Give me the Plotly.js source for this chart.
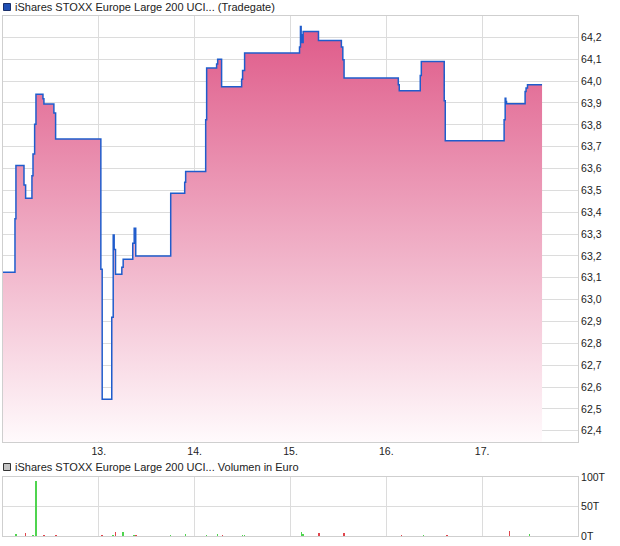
<!DOCTYPE html>
<html>
<head>
<meta charset="utf-8">
<script src="https://cdn.plot.ly/plotly-3.0.1.min.js"></script>
<style>html,body{margin:0;padding:0;background:#fff;}#chart{width:620px;height:546px;}</style>
</head>
<body>
<div id="chart"></div>
<script>
// ---- DATA ----
const seriesName = "iShares STOXX Europe Large 200 UCI... (Tradegate)";
const volumeName = "iShares STOXX Europe Large 200 UCI... Volumen in Euro";

// time in day-of-month units (12.0 = start of the 12th)
const priceTime = [12.000,12.125,12.135,12.219,12.236,12.302,12.313,12.330,12.344,12.417,12.427,12.531,12.549,
  13.021,13.035,13.135,13.150,13.160,13.174,13.240,13.254,13.354,13.369,13.385,13.750,13.896,13.906,
  14.115,14.125,14.229,14.240,14.281,14.490,14.500,14.521,
  15.094,15.104,15.111,15.119,15.132,15.292,15.531,15.546,15.559,
  16.125,16.135,16.354,16.365,16.604,16.615,
  17.229,17.240,17.247,17.254,17.448,17.458,17.473,17.625];
const priceValue = [63.125,63.37,63.614,63.525,63.464,63.567,63.666,63.803,63.94,63.919,63.895,63.854,63.735,
  63.139,62.544,62.919,63.296,63.23,63.116,63.148,63.185,63.258,63.327,63.20,63.487,63.537,63.586,
  63.823,64.06,64.078,64.10,63.974,64.009,64.049,64.129,
  64.156,64.25,64.212,64.177,64.227,64.186,64.156,64.098,64.014,
  63.983,63.956,64.026,64.09,63.91,63.727,
  63.823,63.922,63.907,63.896,63.953,63.968,63.983,63.983];

const volUpTime  = [12.135,12.313,12.344,13.150,13.254,13.369,13.750,13.906,14.125,14.240,14.500,14.518,15.115,15.132,16.388,17.493];
const volUpValue = [4000,1000,94000,2000,7000,2000,1500,3500,1000,3000,1500,1500,7500,4000,1000,3000];
const volDownTime  = [12.233,12.427,12.552,13.031,13.174,13.385,14.289,15.299,15.556,16.159,16.635,17.285];
const volDownValue = [4500,1500,1500,1500,6000,1500,2500,4500,5500,1000,1000,8000];

const dayTicks = [13,14,15,16,17];
const dayLabels = ["13.","14.","15.","16.","17."];
const volTicks = [0,50000,100000];
const volLabels = ["0T","50T","100T"];

// ---- CHART ----
const FONT = "Liberation Sans, Arial, sans-serif";
const gridC = "#dcdcdc", lineC = "#cfcfcf";

const traces = [
  {
    x: priceTime, y: priceValue, type: "scatter", mode: "lines",
    line: {shape: "hv", color: "#1f5ccc", width: 1.5},
    fill: "tozeroy",
    fillgradient: {type: "vertical", start: 62.35, stop: 64.30,
      colorscale: [[0, "rgb(255,250,252)"], [1, "rgb(222,86,134)"]]},
    xaxis: "x", yaxis: "y", hoverinfo: "skip"
  },
  {
    x: volUpTime, y: volUpValue, type: "bar", width: 0.016,
    marker: {color: "#4fd44f", line: {width: 0}},
    xaxis: "x2", yaxis: "y2", hoverinfo: "skip"
  },
  {
    x: volDownTime, y: volDownValue, type: "bar", width: 0.016,
    marker: {color: "#e0454c", line: {width: 0}},
    xaxis: "x2", yaxis: "y2", hoverinfo: "skip"
  }
];

const W = 620, H = 546, ml = 3, mr = 42, mt = 16, mb = 10;
const pw = W - ml - mr, ph = H - mt - mb;
const px = v => (v - ml) / pw;
const py = v => (H - mb - v) / ph;

const axisCommon = {
  showgrid: true, gridcolor: gridC, gridwidth: 1,
  showline: true, mirror: true, linecolor: lineC, linewidth: 1,
  zeroline: false, ticks: "", fixedrange: true,
  tickfont: {family: FONT, size: 10.5, color: "#222"}
};

const layout = {
  width: W, height: H,
  margin: {l: ml, r: mr, t: mt, b: mb, pad: 0},
  paper_bgcolor: "#fff", plot_bgcolor: "#fff",
  showlegend: false, separators: ",.",
  bargap: 0, barmode: "overlay",
  font: {family: FONT, size: 11, color: "#222"},
  xaxis: Object.assign({}, axisCommon, {
    domain: [0, 1], range: [12, 18], anchor: "y",
    tickmode: "array", tickvals: dayTicks, ticktext: dayLabels
  }),
  yaxis: Object.assign({}, axisCommon, {
    domain: [py(441.7), 1], range: [62.35, 64.298], anchor: "x", side: "right",
    tick0: 62.4, dtick: 0.1, tickformat: ".1f"
  }),
  xaxis2: Object.assign({}, axisCommon, {
    domain: [0, 1], range: [12, 18], anchor: "y2",
    tickmode: "array", tickvals: dayTicks, showticklabels: false
  }),
  yaxis2: Object.assign({}, axisCommon, {
    domain: [0, py(477.3)], range: [0, 100000], anchor: "x2", side: "right",
    tickmode: "array", tickvals: volTicks, ticktext: volLabels
  }),
  shapes: [
    {type: "rect", xref: "paper", yref: "paper", x0: px(3.5), x1: px(10.5), y0: py(10.5), y1: py(3.5),
     fillcolor: "#1f4fb4", line: {color: "#1a2f6a", width: 1}},
    {type: "rect", xref: "paper", yref: "paper", x0: px(3.5), x1: px(10.5), y0: py(470.5), y1: py(463.5),
     fillcolor: "#c4c4c4", line: {color: "#333", width: 1}}
  ],
  annotations: [
    {text: seriesName, xref: "paper", yref: "paper", x: px(13), y: py(7), xanchor: "left", yanchor: "middle",
     showarrow: false, font: {family: FONT, size: 11, color: "#222"}},
    {text: volumeName, xref: "paper", yref: "paper", x: px(13), y: py(467), xanchor: "left", yanchor: "middle",
     showarrow: false, font: {family: FONT, size: 11, color: "#222"}}
  ]
};

Plotly.newPlot("chart", traces, layout, {staticPlot: true, displayModeBar: false});
</script>
</body>
</html>
